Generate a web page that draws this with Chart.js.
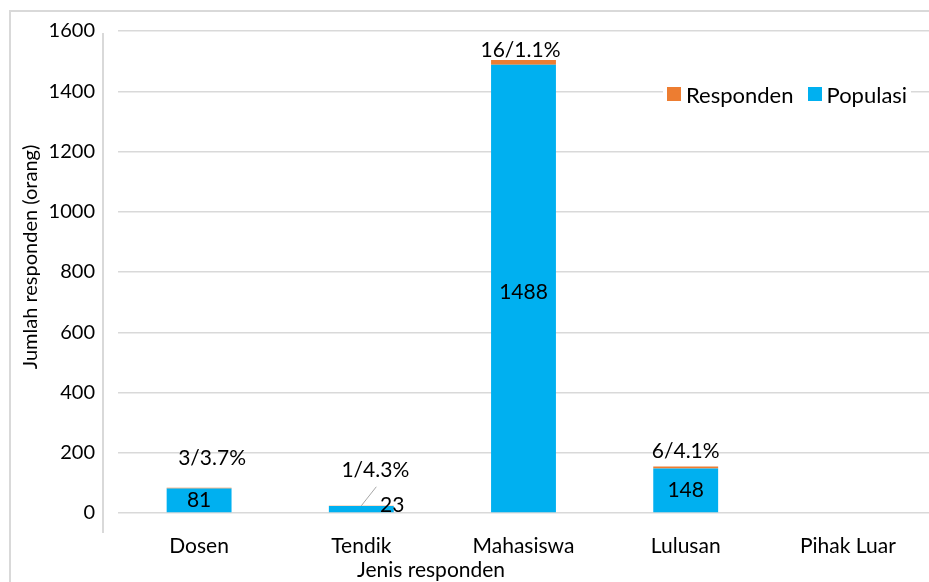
<!DOCTYPE html>
<html>
<head>
<meta charset="utf-8">
<script src="https://cdn.jsdelivr.net/npm/chart.js@4.4.0/dist/chart.umd.min.js"></script>
<style>
  html, body { margin: 0; padding: 0; background: #fff; overflow: hidden; }
  #wrap { position: relative; width: 929px; height: 582px; font-family: Lato, sans-serif; }
  #frame { position: absolute; left: 9px; top: 10px; width: 1200px; height: 900px; border-left: 2px solid #d9d9d9; border-top: 2px solid #d9d9d9; }
  #vline { position: absolute; left: 102px; top: 33px; width: 2px; height: 500px; background: #d9d9d9; }
  #chart { position: absolute; left: 0; top: 0; }
  #legend { position: absolute; left: 663px; top: 81px; height: 26px; padding: 0 4px; background: #fff; display: flex; align-items: center; font-size: 22px; color: #000; }
  #legend .box { display: inline-block; width: 14px; height: 14px; margin-right: 5px; }
  #legend .item { display: flex; align-items: center; margin-right: 14px; }
  #legend .item:last-child { margin-right: 0; }
</style>
</head>
<body>
<div id="wrap">
  <div id="frame"></div>
  <div id="vline"></div>
  <canvas id="chart" width="929" height="582"></canvas>
  <div id="legend"></div>
</div>
<script>
// data
var categories = ['Dosen', 'Tendik', 'Mahasiswa', 'Lulusan', 'Pihak Luar'];
var populasi = [81, 23, 1488, 148, 0];
var responden = [3, 1, 16, 6, 0];

var colPopulasi = '#00B0F0';
var colResponden = '#ED7D31';

// posisi label (offset dari batang)
var popLabelOffset = [[0, 0], [31, -4], [0, 4], [0, 0], [0, 0]];
var resLabelOffset = [[13, -29], [14, -36], [-3, -10], [0, -15], [0, 0]];

// legenda manual (Responden dulu, lalu Populasi)
var legend = document.getElementById('legend');
[['Responden', colResponden], ['Populasi', colPopulasi]].forEach(function(it) {
    var s = document.createElement('span');
    s.className = 'item';
    s.innerHTML = '<span class="box" style="background:' + it[1] + '"></span>' + it[0];
    legend.appendChild(s);
});

var labelPlugin = {
    id: 'labelPlugin',
    afterDatasetsDraw: function(chart) {
        var ctx = chart.ctx;
        var metaPop = chart.getDatasetMeta(0);
        var metaRes = chart.getDatasetMeta(1);
        ctx.save();
        ctx.font = '21px Lato';
        ctx.fillStyle = '#000';
        ctx.textAlign = 'center';
        ctx.textBaseline = 'middle';
        for (var i = 0; i < categories.length; i++) {
            if (populasi[i] > 0) {
                var b = metaPop.data[i];
                ctx.fillText(String(populasi[i]), b.x + popLabelOffset[i][0], (b.y + b.base) / 2 + popLabelOffset[i][1]);
            }
            if (responden[i] > 0) {
                var r = metaRes.data[i];
                var pct = (responden[i] / populasi[i] * 100).toFixed(1);
                ctx.fillText(responden[i] + '/' + pct + '%', r.x + resLabelOffset[i][0], r.y + resLabelOffset[i][1]);
                // garis penunjuk untuk Tendik
                if (categories[i] === 'Tendik') {
                    ctx.strokeStyle = '#a6a6a6';
                    ctx.lineWidth = 1;
                    ctx.beginPath();
                    ctx.moveTo(r.x, r.y);
                    ctx.lineTo(r.x + 15, r.y - 19);
                    ctx.stroke();
                }
            }
        }
        // judul sumbu x
        ctx.font = '21px Lato';
        ctx.fillText('Jenis responden', 431, 570);
        // judul sumbu y (digeser sedikit ke atas seperti aslinya)
        ctx.font = '20px Lato';
        ctx.translate(31, 257);
        ctx.rotate(-Math.PI / 2);
        ctx.fillText('Jumlah responden (orang)', 0, 0);
        ctx.restore();
    }
};

new Chart(document.getElementById('chart'), {
    type: 'bar',
    data: {
        labels: categories,
        datasets: [{
            label: 'Populasi',
            data: populasi,
            backgroundColor: colPopulasi,
            categoryPercentage: 1,
            barPercentage: 0.4
        }, {
            label: 'Responden',
            data: responden,
            backgroundColor: colResponden,
            categoryPercentage: 1,
            barPercentage: 0.4
        }]
    },
    options: {
        responsive: false,
        animation: false,
        layout: { padding: { left: 16, top: 31, right: 0, bottom: 0 } },
        plugins: {
            legend: { display: false },
            tooltip: { enabled: false }
        },
        scales: {
            x: {
                stacked: true,
                grid: { display: false, drawTicks: false },
                border: { display: false },
                ticks: { color: '#000', font: { family: 'Lato', size: 21 }, padding: 21 },
                afterFit: function(s) { s.height = 69; }
            },
            y: {
                stacked: true,
                min: 0,
                max: 1600,
                ticks: {
                    stepSize: 200, color: '#000', font: { family: 'Lato', size: 20 }, padding: 3,
                    callback: function(v) { return String(v); }
                },
                grid: { color: '#d9d9d9', lineWidth: 1.5, drawTicks: true, tickLength: 20, tickColor: 'rgba(0,0,0,0)' },
                border: { display: false },
                afterFit: function(s) { s.width = 102; }
            }
        }
    },
    plugins: [labelPlugin]
});
</script>
</body>
</html>
